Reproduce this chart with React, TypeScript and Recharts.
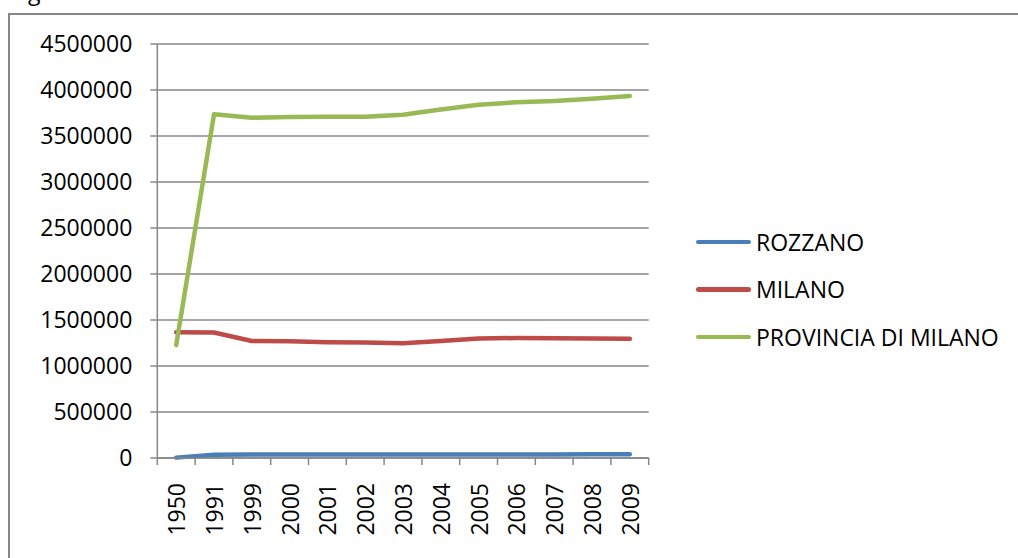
import React from "react";
import { LineChart, Line, XAxis, YAxis, CartesianGrid } from "recharts";

// ---------------------------------------------------------------------------
// Data
// ---------------------------------------------------------------------------

const years = ["1950", "1991", "1999", "2000", "2001", "2002", "2003", "2004", "2005", "2006", "2007", "2008", "2009"];

const rozzano = [4000, 36500, 37000, 37200, 37400, 37600, 37900, 38200, 38600, 39000, 39400, 40200, 41000];
const milano = [1366000, 1364000, 1272000, 1268000, 1258000, 1256000, 1248000, 1272000, 1299000, 1304000, 1302000, 1300000, 1295000];
const provincia = [1228000, 3736000, 3699000, 3706000, 3710000, 3710000, 3730000, 3788000, 3840000, 3866000, 3880000, 3904000, 3935000];

const yTicks = [0, 500000, 1000000, 1500000, 2000000, 2500000, 3000000, 3500000, 4000000, 4500000];

const series = [
  { key: "rozzano", name: "ROZZANO", color: "#4A7EBB" },
  { key: "milano", name: "MILANO", color: "#BE4B48" },
  { key: "provincia", name: "PROVINCIA DI MILANO", color: "#98B954" },
];

const data = years.map((year, i) => ({
  idx: i,
  year,
  rozzano: rozzano[i],
  milano: milano[i],
  provincia: provincia[i],
}));

// category boundaries (tick marks) and centres (labels)
const xTicks: number[] = [];
for (let i = 0; i <= years.length; i++) {
  xTicks.push(i - 0.5);
  if (i < years.length) xTicks.push(i);
}

const FONT = "'Open Sans', sans-serif";
const AXIS = "#878787";

// ---------------------------------------------------------------------------
// X tick: short line on boundaries, rotated year on centres
// ---------------------------------------------------------------------------

function YearTick(props: any) {
  const { x, y, payload } = props;
  const v = payload.value as number;
  if (!Number.isInteger(v)) {
    return <line x1={x} x2={x} y1={y} y2={y + 7} stroke={AXIS} strokeWidth={1.5} />;
  }
  const ty = y + 25;
  return (
    <text
      x={x}
      y={ty}
      transform={`rotate(-90, ${x}, ${ty})`}
      textAnchor="end"
      dominantBaseline="central"
      fontFamily={FONT}
      fontSize={23}
      fill="#000"
    >
      {years[v]}
    </text>
  );
}

export default function App() {
  return (
    <div style={{ position: "absolute", left: 0, top: 0, width: 1018, height: 558, overflow: "hidden", background: "#fff" }}>
      {/* tail of the caption above the frame */}
      <div style={{ position: "absolute", left: 28, top: -25, fontFamily: FONT, fontSize: 23, color: "#000" }}>g</div>
      <div
        style={{
          position: "absolute",
          left: 8,
          top: 13,
          width: 1100,
          height: 700,
          border: `2px solid ${AXIS}`,
        }}
      />
      <div style={{ position: "absolute", left: 0, top: 0 }}>
        <LineChart width={1018} height={558} data={data} margin={{ top: 44, right: 369.3, bottom: 0, left: 0 }}>
          <CartesianGrid vertical={false} stroke={AXIS} strokeWidth={1.5} />
          <XAxis
            dataKey="idx"
            type="number"
            domain={[-0.5, years.length - 0.5]}
            ticks={xTicks}
            interval={0}
            height={100}
            tickSize={0}
            tickMargin={0}
            tickLine={false}
            tick={<YearTick />}
            stroke={AXIS}
            strokeWidth={1.5}
          />
          <YAxis
            domain={[0, 4500000]}
            ticks={yTicks}
            interval={0}
            width={157.3}
            tickSize={7}
            tickMargin={18}
            stroke={AXIS}
            strokeWidth={1.5}
            tick={{ fontFamily: FONT, fontSize: 23, fill: "#000" }}
          />
          {series.map((s) => (
            <Line
              key={s.key}
              dataKey={s.key}
              name={s.name}
              type="linear"
              stroke={s.color}
              strokeWidth={4.5}
              strokeLinecap="round"
              strokeLinejoin="round"
              dot={false}
              activeDot={false}
              isAnimationActive={false}
            />
          ))}
        </LineChart>
      </div>
      <div style={{ position: "absolute", left: 696, top: 218 }}>
        {series.map((s) => (
          <div key={s.key} style={{ display: "flex", alignItems: "center", height: 47.5 }}>
            <div style={{ width: 55, height: 4.5, borderRadius: 3, background: s.color, marginRight: 5 }} />
            <span style={{ fontFamily: FONT, fontSize: 23, color: "#000", lineHeight: "36px" }}>{s.name}</span>
          </div>
        ))}
      </div>
    </div>
  );
}
